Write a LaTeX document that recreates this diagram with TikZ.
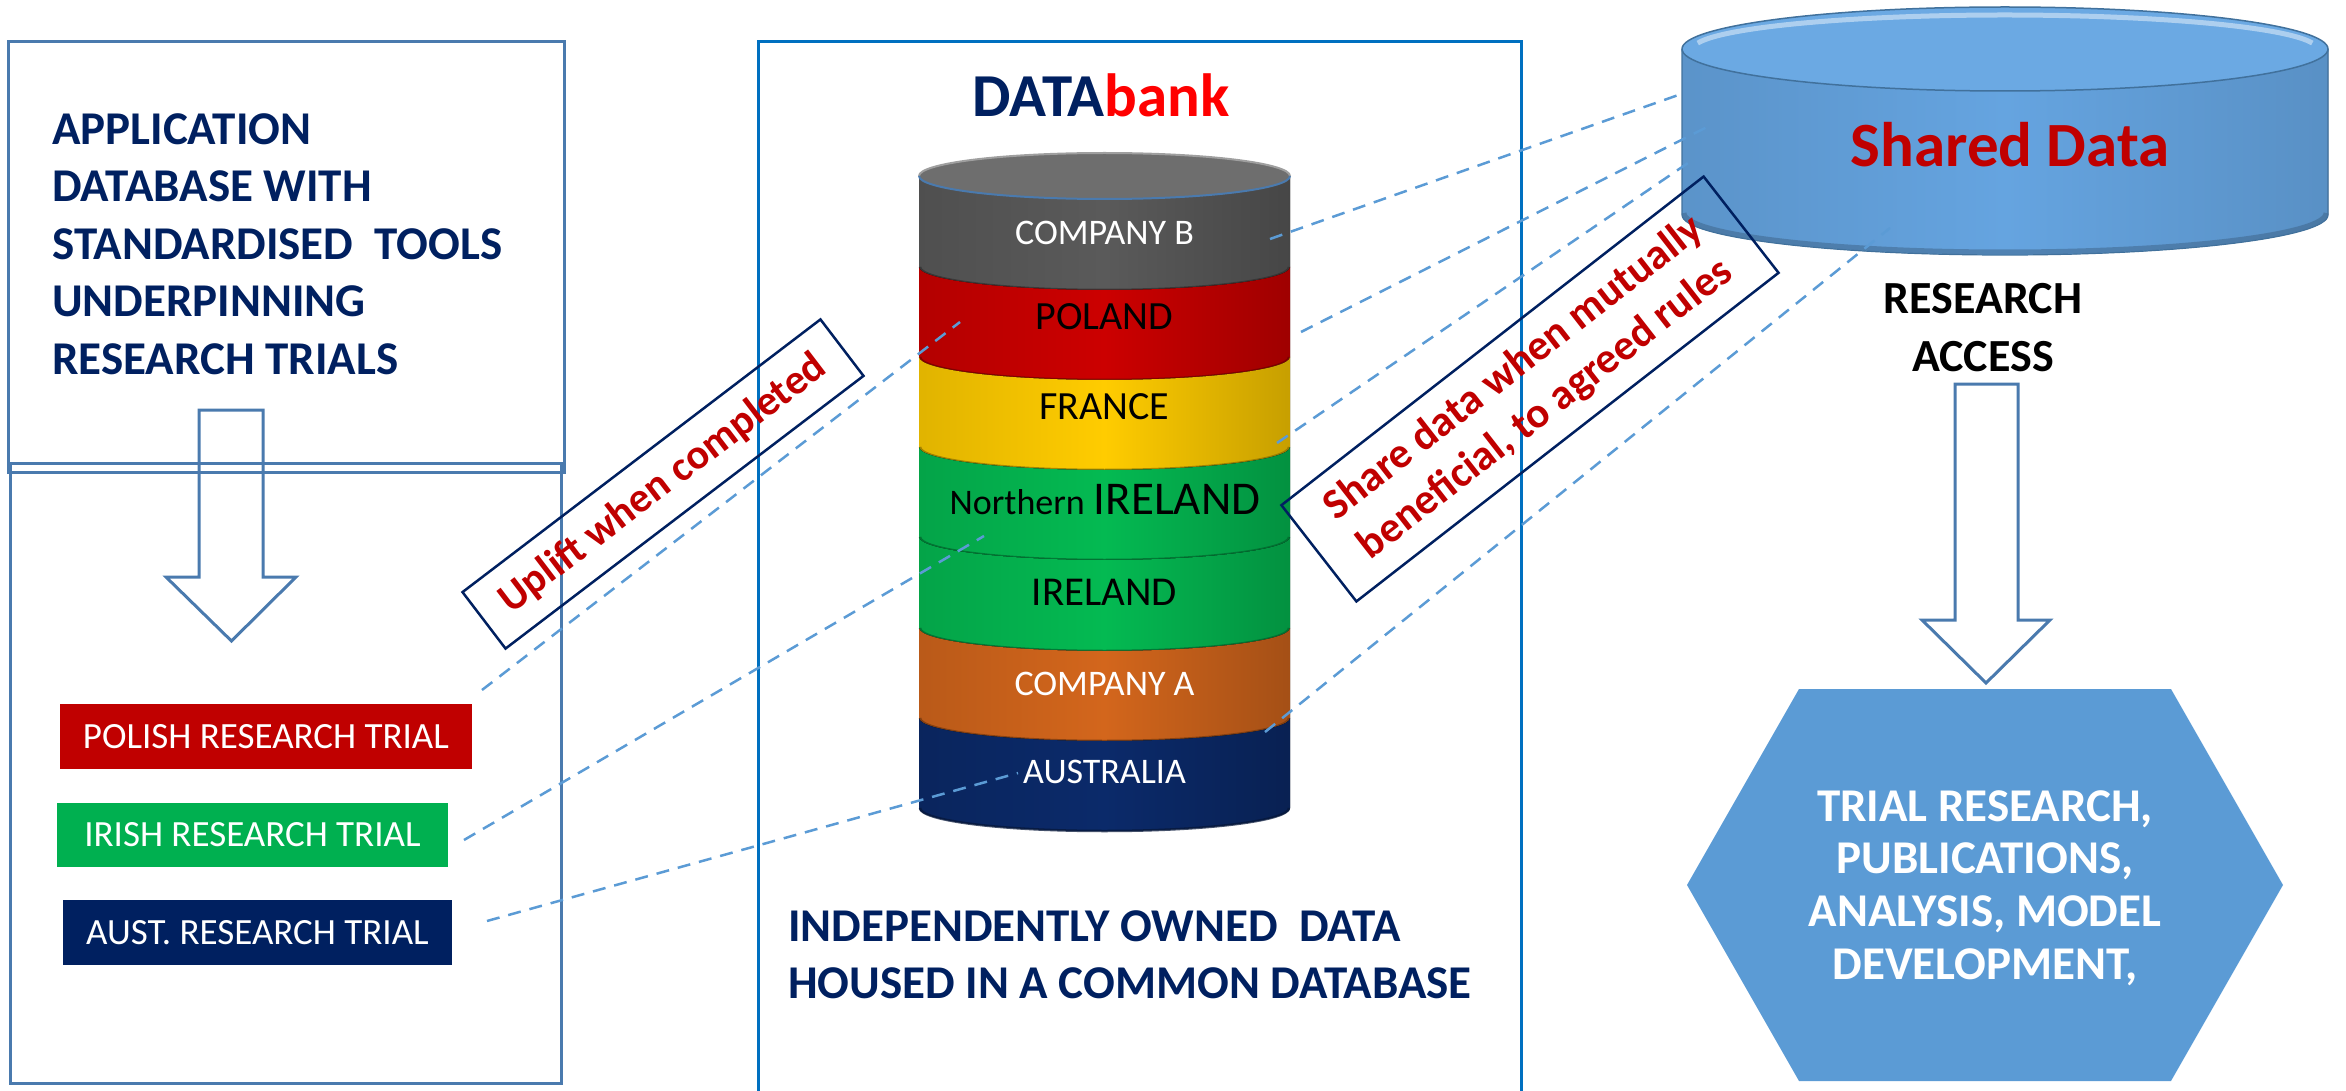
\documentclass[tikz,border=0pt]{standalone}
\usepackage{fontspec}
\setmainfont{Carlito}
\newcommand{\fsz}[2]{\fontsize{#1}{#2}\selectfont}
\definecolor{navy}{HTML}{002060}
\definecolor{dred}{HTML}{C00000}
\definecolor{bred}{HTML}{FF0000}
\definecolor{boxlinec}{HTML}{4A7AAE}
\definecolor{cline}{HTML}{0070C0}
\definecolor{dashblue}{HTML}{5B9BD5}
\definecolor{hexblue}{HTML}{5B9BD5}
\definecolor{cylblue}{HTML}{65A4E0}
\definecolor{cyltop}{HTML}{6BA9E3}
\definecolor{cylrim}{HTML}{41719C}
\definecolor{cgray}{HTML}{5A5A5A}
\definecolor{cred}{HTML}{CC0000}
\definecolor{cyellow}{HTML}{FFCC00}
\definecolor{cgreen}{HTML}{04BA52}
\definecolor{corange}{HTML}{D3661C}
\definecolor{cnavy}{HTML}{0B2A6A}
\definecolor{trialred}{HTML}{C00000}
\definecolor{trialgreen}{HTML}{00B050}
\tikzset{
  boxline/.style={draw=boxlinec, line width=3pt},
  dashconn/.style={draw=dashblue, line width=2.5pt, dash pattern=on 13pt off 9pt},
  trialbox/.style={fill=#1, text=white, minimum height=65pt, inner sep=0pt, font=\fsz{37}{44}},
  layerlabel/.style={inner sep=0pt, font=\fsz{40}{46}},
  tagbox/.style={draw=navy, line width=2.5pt, text=dred, inner sep=0pt},
  heading/.style={text=navy, inner sep=0pt, font=\bfseries\fsz{47}{57.5}},
}
\begin{document}
\begin{tikzpicture}[x=1pt,y=-1pt]
\useasboundingbox (0,0) rectangle (2346,1091);
\clip (0,0) rectangle (2346,1091);

% ---------- left panel
\draw[boxline] (8,42) rectangle (564,472);
\draw[boxline] (10,463) rectangle (561,1083);
\draw[boxline, line join=miter] (199,410) -- (263,410) -- (263,577) -- (296,577) -- (231.5,641) -- (166,577) -- (199,577) -- cycle;

% ---------- centre panel
\draw[draw=cline, line width=3pt] (758,42) rectangle (1521,1100);

% ---------- shared data cylinder
\fill[left color=cylblue!90!black, right color=cylblue!88!black, middle color=cylblue]
  (1682,49) -- (1682,215) arc[start angle=180,end angle=360,x radius=323pt,y radius=40pt] -- (2328,49) -- cycle;
\draw[cylblue!60!black, line width=5pt, opacity=0.5]
  (1684,213) arc[start angle=180,end angle=360,x radius=321pt,y radius=39pt];
\draw[cylrim, line width=1.2pt]
  (1682,49) -- (1682,215) arc[start angle=180,end angle=360,x radius=323pt,y radius=40pt] -- (2328,49);
\filldraw[fill=cyltop, draw=cylrim, line width=1.5pt] (2005,49) ellipse[x radius=323pt, y radius=42pt];
\draw[white, opacity=0.45, line width=5pt]
  ([shift={(170:312pt and 34pt)}]2005,49) arc[start angle=170, end angle=10, x radius=312pt, y radius=34pt];

% ---------- DATAbank stack
\foreach \yt/\yb/\c in {176/267/cgray, 267/357/cred, 357/447/cyellow, 447/537/cgreen, 537/628/cgreen, 628/718/corange, 718/808/cnavy}{
  \fill[left color=\c!88!black, right color=\c!78!black, middle color=\c]
    (919,\yt) -- (919,\yb) arc[start angle=180,end angle=360,x radius=185.5pt,y radius=23pt]
    -- (1290,\yt) arc[start angle=360,end angle=180,x radius=185.5pt,y radius=23pt] -- cycle;
  \draw[\c!55!black, line width=2.5pt, opacity=0.75]
    (920,\yb) arc[start angle=180,end angle=360,x radius=184.5pt,y radius=23pt];
}
\fill[cgray!88!white] (1104.5,176) ellipse[x radius=185.5pt, y radius=23pt];
\draw[gray!75, line width=2pt] (919,176) arc[start angle=180,end angle=0,x radius=185.5pt,y radius=23pt];
\draw[boxlinec, line width=2pt] (919,176) arc[start angle=180,end angle=360,x radius=185.5pt,y radius=23pt];

\node[layerlabel, text=white, font=\fsz{36}{42}] (lcompb) at (1104.5,233) {COMPANY B};
\node[layerlabel, text=black] (lpoland) at (1104.5,317) {POLAND};
\node[layerlabel, text=black] (lfrance) at (1104.5,407) {FRANCE};
\node[layerlabel, text=black] (lnire) at (1105,500) {{\fsz{36}{42}Northern} {\fsz{47}{52}IRELAND}};
\node[layerlabel, text=black, font=\fsz{41}{46}] (lire) at (1104.5,592) {IRELAND};
\node[layerlabel, text=white, font=\fsz{36}{42}] (lcompa) at (1104.5,684) {COMPANY A};
\node[layerlabel, text=white, font=\fsz{36}{42}] (laus) at (1104.5,772) {AUSTRALIA};

% ---------- trial boxes
\node[trialbox=trialred, minimum width=412pt] (polish) at (266,736.5) {POLISH RESEARCH TRIAL};
\node[trialbox=trialgreen, minimum width=391pt, minimum height=64pt] (irish) at (252.5,835) {IRISH RESEARCH TRIAL};
\node[trialbox=navy, minimum width=389pt] (aust) at (257.5,932.5) {AUST. RESEARCH TRIAL};

% ---------- connector end points
\coordinate (polishOut) at (482,690);
\coordinate (polandIn) at (960,322);
\coordinate (irishOut) at (464,840);
\coordinate (nireIn) at (984,536);
\coordinate (austOut) at (487,921);
\coordinate (ausIn) at (1018,773);
\coordinate (compbOut) at (1270,239);
\coordinate (shareIn1) at (1684,93);
\coordinate (polandOut) at (1301,332);
\coordinate (shareIn2) at (1711,125);
\coordinate (franceOut) at (1277,443);
\coordinate (shareIn3) at (1688,163);
\coordinate (compaOut) at (1265,732);
\coordinate (shareIn4) at (1890,228);

\draw[dashconn] (polishOut) -- (polandIn);
\draw[dashconn] (irishOut) -- (nireIn);
\draw[dashconn] (austOut) -- (ausIn);
\draw[dashconn] (compbOut) -- (shareIn1);
\draw[dashconn] (polandOut) -- (shareIn2);
\draw[dashconn] (franceOut) -- (shareIn3);
\draw[dashconn] (compaOut) -- (shareIn4);

% ---------- rotated tags
\node[tagbox, rotate=37.3, minimum width=450pt, minimum height=71pt, font=\bfseries\fsz{42}{48}] (uplift) at (663,484) {Uplift when completed};
\node[tagbox, rotate=37.9, minimum width=535pt, minimum height=122pt, align=center, font=\bfseries\fsz{43}{52}] (share) at (1530,389) {Share data when mutually\\beneficial, to agreed rules};

% ---------- right side
\draw[boxline, line join=miter] (1955,384) -- (2018,384) -- (2018,620) -- (2050,620) -- (1986,683) -- (1922,620) -- (1955,620) -- cycle;
\fill[hexblue] (1799,689) -- (2171,689) -- (2283,885) -- (2171,1081) -- (1799,1081) -- (1687,885) -- cycle;
\coordinate (hexcentre) at (1985,885);

% ---------- texts
\node[heading, anchor=north west, align=left] (apptext) at (52,113)
  {APPLICATION\\DATABASE WITH\\STANDARDISED\ \ TOOLS\\UNDERPINNING\\RESEARCH TRIALS};
\node[heading, anchor=north west, align=left, font=\bfseries\fsz{47}{57}] (indtext) at (788,910)
  {INDEPENDENTLY OWNED\ \ DATA\\HOUSED IN A COMMON DATABASE};
\node[anchor=base, inner sep=0pt, font=\bfseries\fsz{61}{70}] (databank) at (1101,117)
  {\textcolor{navy}{DATA}\textcolor{bred}{bank}};
\node[anchor=base, inner sep=0pt, text=dred, font=\bfseries\fsz{63}{70}] (sharedtxt) at (2010,167) {Shared Data};
\node[anchor=north, inner sep=0pt, align=center, font=\bfseries\fsz{46}{58}] (access) at (1983,283) {RESEARCH\\ACCESS};
\node[anchor=north, inner sep=0pt, align=center, text=white, font=\bfseries\fsz{47}{52.7}] (hextext) at (1985,790)
  {TRIAL RESEARCH,\\PUBLICATIONS,\\ANALYSIS, MODEL\\DEVELOPMENT,};
\end{tikzpicture}
\end{document}
